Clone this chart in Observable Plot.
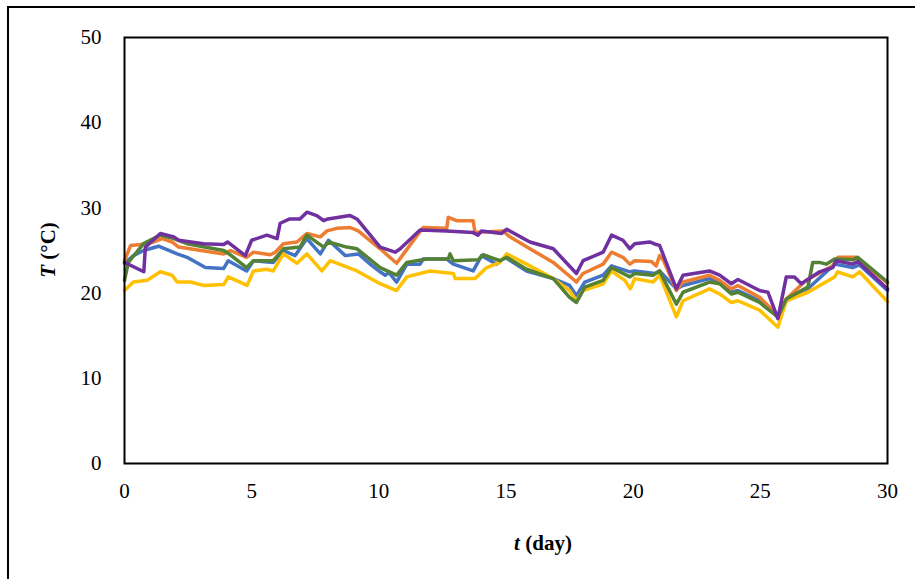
<!DOCTYPE html>
<html>
<head>
<meta charset="utf-8">
<script src="https://cdn.jsdelivr.net/npm/d3@7"></script>
<script src="https://cdn.jsdelivr.net/npm/@observablehq/plot@0.6"></script>
<style>
  html, body { margin: 0; padding: 0; background: #fff; overflow: hidden; }
  #wrap { position: relative; width: 915px; height: 579px; }
  #border { position: absolute; left: 7px; top: 6px; width: 950px; height: 640px; border: 2px solid #000; box-sizing: border-box; pointer-events: none; }
  #chart { position: absolute; left: 0; top: 0; }
</style>
</head>
<body>
<div id="wrap"><div id="chart"></div><div id="border"></div></div>
<script>
const xTicks = [0, 5, 10, 15, 20, 25, 30];
const yTicks = [0, 10, 20, 30, 40, 50];

const tBlue = [0,0.35,0.75,1.34,2.07,2.46,3.18,3.9,4.08,4.8,5.07,5.85,6.25,6.71,7.17,7.7,8.02,8.68,9.2,9.66,10.05,10.25,10.4,10.7,11.1,11.62,11.74,12.67,12.93,13.71,14.04,14.63,14.96,15.81,16.86,17.5,17.77,18.1,18.82,19.15,19.87,20.06,20.85,21.04,21.7,21.96,23.0,23.4,23.86,24.12,24.97,25.69,26.02,26.87,27.92,28.63,28.9,30];
const vBlue = [23.5,24.4,25.0,25.5,24.6,24.2,23.0,22.9,23.8,22.6,23.8,23.6,25.0,24.4,26.4,24.6,26.2,24.4,24.6,23.4,22.5,22.1,22.4,21.3,23.4,23.4,24.0,24.0,23.4,22.6,24.4,23.4,24.2,22.6,21.7,20.9,19.7,21.3,22.1,23.2,22.5,22.6,22.3,22.6,20.5,20.9,21.7,21.3,20.1,20.3,19.1,17.2,19.1,20.5,23.4,23.0,23.3,20.3];

const tOrange = [0,0.24,0.63,1.15,1.48,1.87,2.13,3.9,4.16,4.8,5.07,5.73,5.93,6.25,6.78,7.17,7.7,7.96,8.35,8.87,9.19,10.05,10.7,10.97,11.74,12.67,12.73,13.06,13.71,13.78,14.89,15.15,15.94,16.86,17.77,18.03,18.82,19.15,19.6,19.87,20.06,20.72,20.91,21.04,21.2,21.7,21.96,23.0,23.4,23.86,24.12,24.97,25.69,26.02,26.8,27.85,28.05,28.77,28.9,30];
const vOrange = [23.8,25.6,25.7,26.0,26.4,26.0,25.4,24.6,25.0,24.2,24.8,24.5,24.8,25.8,26.0,27.0,26.6,27.3,27.6,27.7,27.3,25.2,23.5,24.6,27.7,27.6,28.9,28.5,28.5,27.1,27.3,26.6,25.2,23.6,21.3,22.3,23.4,24.8,24.2,23.4,23.8,23.7,23.2,24.4,23.8,20.3,21.3,22.1,21.5,20.5,20.9,19.5,17.4,19.3,21.5,23.2,24.2,24.2,23.8,21.2];

const tYellow = [0,0.35,0.89,1.41,1.87,2.07,2.6,3.1,3.9,4.08,4.82,5.07,5.6,5.85,6.25,6.78,7.17,7.76,8.09,9.14,10.05,10.7,11.1,12.0,12.93,13.0,13.78,14.24,14.76,15.03,15.81,16.86,17.5,17.77,18.03,18.82,19.15,19.67,19.89,20.06,20.78,21.04,21.7,21.96,23.0,23.4,23.86,24.12,24.97,25.69,26.02,26.87,27.92,28.04,28.63,28.9,30];
const vYellow = [20.3,21.3,21.5,22.5,22.1,21.3,21.3,20.9,21.0,21.9,20.9,22.6,22.8,22.6,24.6,23.5,24.6,22.6,23.8,22.6,21.1,20.3,21.9,22.6,22.3,21.7,21.7,23.0,23.6,24.6,23.4,21.7,20.3,19.1,20.3,21.1,22.6,21.5,20.5,21.7,21.3,22.1,17.2,19.1,20.5,19.9,18.9,19.1,18.0,16.0,19.1,20.1,21.9,22.5,21.9,22.5,19.0];

const tGreen = [0,0.15,0.75,1.41,1.94,2.46,3.9,4.16,4.8,5.07,5.85,6.25,6.9,7.17,7.83,8.02,8.74,9.14,10.05,10.7,11.1,11.88,12.73,12.8,12.93,13.9,14.1,14.76,15.03,15.81,16.86,17.5,17.77,18.1,18.82,19.15,19.87,20.06,20.78,21.04,21.7,21.96,23.0,23.4,23.86,24.12,24.97,25.69,26.02,26.74,26.87,27.06,27.33,27.59,27.92,28.63,28.83,30];
const vGreen = [21.5,23.6,25.8,26.8,26.4,25.8,25.0,24.5,23.0,23.8,23.8,25.2,25.4,26.8,25.4,26.0,25.4,25.2,23.0,22.1,23.6,24.0,24.0,24.6,23.8,23.9,24.5,23.8,24.2,22.8,21.7,19.5,18.9,20.7,21.5,23.0,21.9,22.3,22.1,22.6,18.7,20.1,21.3,21.1,19.9,20.1,18.9,17.2,19.3,20.5,20.7,23.6,23.6,23.4,24.0,23.9,24.2,21.3];

const tPurple = [0,0.76,0.82,1.41,1.94,2.13,3.1,3.9,4.05,4.75,5.0,5.6,6.0,6.12,6.5,6.9,7.17,7.56,7.83,8.0,8.87,9.14,10.05,10.64,10.84,11.62,12.67,13.7,13.9,14.04,14.83,15.03,15.94,16.86,17.77,18.03,18.82,19.15,19.6,19.87,20.06,20.65,20.91,21.04,21.7,21.96,23.0,23.4,23.86,24.12,24.97,25.3,25.69,26.02,26.34,26.61,27.33,27.85,27.98,28.63,28.83,30];
const vPurple = [23.6,22.5,25.4,27.0,26.6,26.2,25.8,25.7,26.0,24.4,26.2,26.8,26.4,28.2,28.7,28.7,29.5,29.1,28.5,28.7,29.1,28.7,25.4,24.8,25.2,27.4,27.3,27.1,26.8,27.3,27.0,27.5,26.0,25.2,22.3,23.8,24.8,26.8,26.2,25.2,25.8,26.0,25.7,25.6,20.5,22.1,22.6,22.1,21.1,21.6,20.3,20.1,17.0,21.9,21.9,21.1,22.5,23.0,23.8,23.4,23.7,20.5];

const seriesColors = ["#4472C4", "#ED7D31", "#FFC000", "#548235", "#7030A0"];
const seriesT = [tBlue, tOrange, tYellow, tGreen, tPurple];
const seriesV = [vBlue, vOrange, vYellow, vGreen, vPurple];

const lines = seriesT.map((ts, i) => {
  const data = ts.map((t, j) => ({t, v: seriesV[i][j]}));
  return Plot.line(data, {x: "t", y: "v", stroke: seriesColors[i], strokeWidth: 3.5, strokeLinejoin: "round", strokeLinecap: "round"});
});

const chart = Plot.plot({
  width: 915,
  height: 579,
  marginLeft: 124,
  marginRight: 28,
  marginTop: 37,
  marginBottom: 116,
  style: {fontFamily: "'Liberation Serif', 'Times New Roman', serif", fontSize: "21px", color: "#000", background: "transparent"},
  x: {domain: [0, 30], ticks: xTicks, tickSize: 0, tickPadding: 20, label: null},
  y: {domain: [0, 50], ticks: yTicks, tickSize: 0, tickPadding: 23, label: null},
  marks: [
    ...lines,
    Plot.frame({stroke: "#000", strokeWidth: 2})
  ]
});
document.getElementById("chart").appendChild(chart);

const svg = d3.select(chart);
const xt = svg.append("text")
  .attr("x", 543).attr("y", 550)
  .attr("text-anchor", "middle")
  .style("font-family", "'Liberation Serif', 'Times New Roman', serif")
  .style("font-size", "21px").style("font-weight", "bold").attr("fill", "#000");
xt.append("tspan").style("font-style", "italic").text("t");
xt.append("tspan").text(" (day)");

const yt = svg.append("text")
  .attr("transform", "translate(55,250) rotate(-90)")
  .attr("text-anchor", "middle")
  .style("font-family", "'Liberation Serif', 'Times New Roman', serif")
  .style("font-size", "21px").style("font-weight", "bold").attr("fill", "#000");
yt.append("tspan").style("font-style", "italic").text("T");
yt.append("tspan").text(" (°C)");
</script>
</body>
</html>
